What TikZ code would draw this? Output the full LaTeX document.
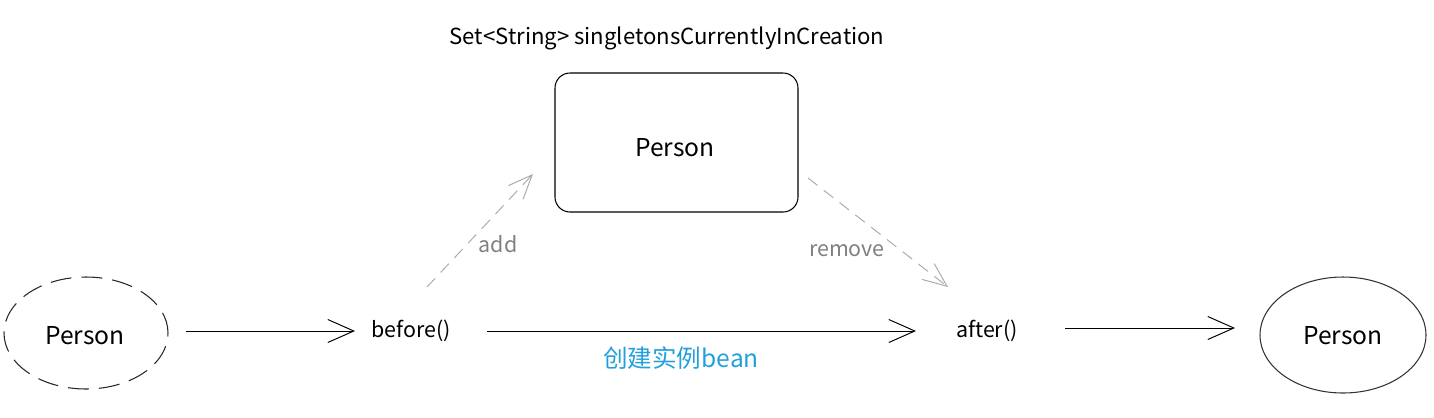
\documentclass[tikz,border=0pt]{standalone}
\usepackage{fontspec}
\newfontfamily\cjk{Noto Sans CJK SC}
\usetikzlibrary{arrows.meta,shapes.geometric}
\definecolor{dgray}{RGB}{170,170,170}
\definecolor{lgray}{RGB}{128,128,128}
\definecolor{bblue}{RGB}{35,160,220}
\tikzset{
  lbl/.style={font=\cjk\fontsize{12.2}{14}\selectfont, inner sep=0pt},
  big/.style={font=\cjk\fontsize{14}{16}\selectfont, inner sep=0pt},
  flow/.style={draw=black, line width=0.55pt, -{Straight Barb[length=0.52cm,width=0.46cm,line width=0.55pt]}},
  dflow/.style={draw=dgray, line width=0.55pt, dash pattern=on 0.24cm off 0.16cm, -{Straight Barb[length=0.48cm,width=0.4cm,line width=0.55pt]}},
}
\begin{document}
\begin{tikzpicture}[x=0.02cm,y=-0.02cm]
\useasboundingbox (0,0) rectangle (1434,417);
\node[big, font=\cjk\fontsize{12.6}{14}\selectfont] (title) at (667,38) {Set<String> singletonsCurrentlyInCreation};
\node[draw=black, line width=0.6pt, rounded corners=0.3cm, minimum width=243*0.02cm, minimum height=139*0.02cm] (set) at (676.5,142.5) {};
\node[big] (settext) at (675,148) {Person};
\node[draw=black!85, line width=0.6pt, dash pattern=on 0.42cm off 0.2cm, ellipse, minimum width=164*0.02cm, minimum height=112*0.02cm] (p1) at (86,333) {};
\node[big] (p1text) at (85,336) {Person};
\node[draw=black!80, line width=0.6pt, ellipse, minimum width=166*0.02cm, minimum height=116*0.02cm] (p2) at (1343,335) {};
\node[big] (p2text) at (1343,336) {Person};
\node[lbl] (before) at (411,331) {before()};
\node[lbl] (after) at (987,331) {after()};
\coordinate (a1s) at (186,331); \coordinate (a1e) at (355,331);
\coordinate (a2s) at (487,331); \coordinate (a2e) at (916,331);
\coordinate (a3s) at (1065,328); \coordinate (a3e) at (1235,328);
\draw[flow] (a1s) -- (a1e);
\draw[flow] (a2s) -- (a2e);
\draw[flow] (a3s) -- (a3e);
\coordinate (adds) at (427,287); \coordinate (adde) at (533,174);
\coordinate (rems) at (808,178); \coordinate (reme) at (948,287);
\draw[dflow] (adds) -- (adde);
\draw[dflow] (rems) -- (reme);
\node[lbl, text=lgray] (add) at (498,244) {add};
\node[lbl, text=lgray] (remove) at (847,251) {remove};
\node[lbl, text=bblue, font=\cjk\fontsize{14}{16}\selectfont] (create) at (681,358) {创建实例bean};
\end{tikzpicture}
\end{document}
